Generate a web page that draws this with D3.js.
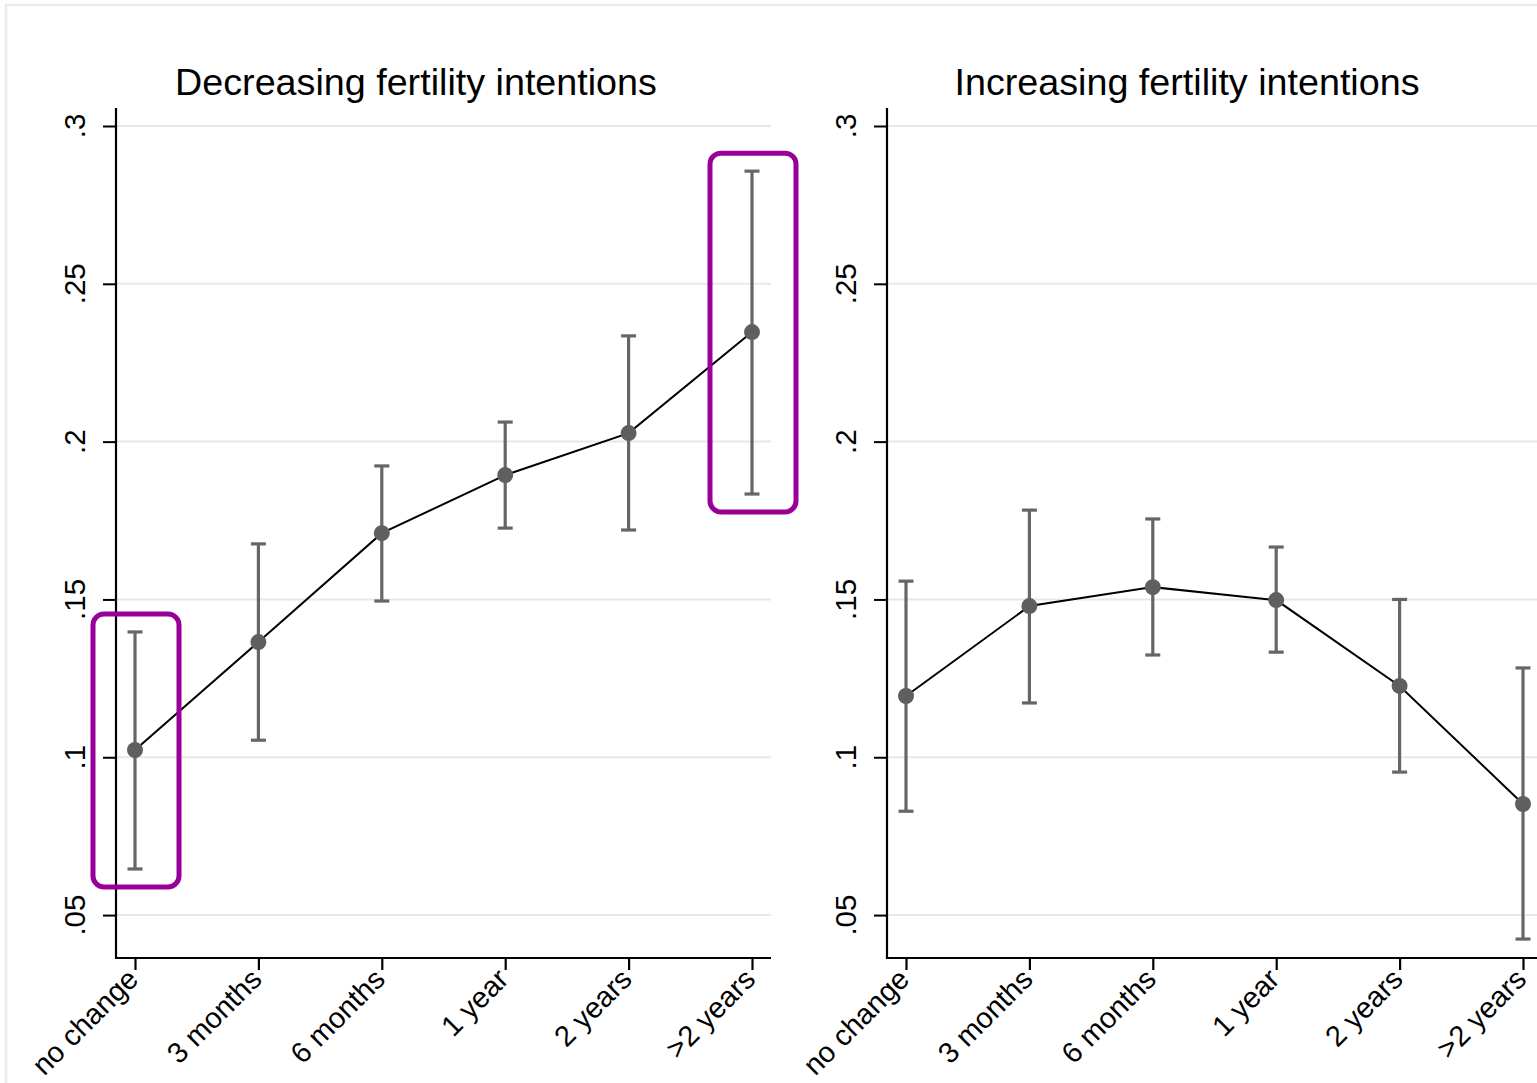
<!DOCTYPE html>
<html>
<head>
<meta charset="utf-8">
<script src="https://cdn.jsdelivr.net/npm/d3@7"></script>
<style>
  html, body { margin: 0; padding: 0; background: #fff; }
  svg { display: block; }
  text { font-family: "Liberation Sans", Arial, Helvetica, sans-serif; fill: #000; }
</style>
</head>
<body>
<svg id="chart" width="1537" height="1083"></svg>
<script>
// ---- data ----
const categories = ["no change", "3 months", "6 months", "1 year", "2 years", ">2 years"];
const yTicks = [0.05, 0.1, 0.15, 0.2, 0.25, 0.3];
const yTickLabels = [".05", ".1", ".15", ".2", ".25", ".3"];
const panelTitles = ["Decreasing fertility intentions", "Increasing fertility intentions"];

const decEstimate = [0.1023, 0.1365, 0.1710, 0.1894, 0.2027, 0.2347];
const decLower    = [0.0646, 0.1054, 0.1495, 0.1726, 0.1720, 0.1834];
const decUpper    = [0.1397, 0.1676, 0.1923, 0.2062, 0.2335, 0.2857];

const incEstimate = [0.1194, 0.1479, 0.1539, 0.1498, 0.1226, 0.0852];
const incLower    = [0.0829, 0.1172, 0.1324, 0.1333, 0.0953, 0.0424];
const incUpper    = [0.1558, 0.1783, 0.1755, 0.1666, 0.1500, 0.1283];

// highlighted categories (annotation boxes) per panel
const decHighlights = ["no change", ">2 years"];
const incHighlights = [];

// ---- layout ----
const svg = d3.select("#chart");

// outer graph frame
svg.append("rect")
  .attr("x", 6).attr("y", 5).attr("width", 1600).attr("height", 1200)
  .attr("fill", "none").attr("stroke", "#ebebeb").attr("stroke-width", 2.5);

const yDomain = [0.0364, 0.3057];
const plotTop = 108, plotBottom = 958;

const panels = [
  { left: 116, right: 771, title: panelTitles[0], est: decEstimate, lo: decLower, hi: decUpper, hl: decHighlights },
  { left: 887, right: 1542, title: panelTitles[1], est: incEstimate, lo: incLower, hi: incUpper, hl: incHighlights }
];

panels.forEach(p => {
  const g = svg.append("g");
  const x = d3.scalePoint().domain(categories).range([p.left + 19, p.right - 19]);
  const y = d3.scaleLinear().domain(yDomain).range([plotBottom, plotTop]);

  // gridlines
  g.append("g").selectAll("line").data(yTicks).join("line")
    .attr("x1", p.left).attr("x2", p.right)
    .attr("y1", d => y(d)).attr("y2", d => y(d))
    .attr("stroke", "#e8e8e8").attr("stroke-width", 2);

  // y axis
  const yAxis = g.append("g").attr("transform", `translate(${p.left},0)`)
    .call(d3.axisLeft(y).tickValues(yTicks).tickSize(13)
      .tickFormat((d, i) => yTickLabels[i]));
  yAxis.select(".domain").remove();
  yAxis.selectAll(".tick line").attr("stroke", "#000").attr("stroke-width", 2);
  yAxis.selectAll(".tick text").remove();
  g.append("line").attr("x1", p.left).attr("x2", p.left)
    .attr("y1", plotTop).attr("y2", plotBottom + 1)
    .attr("stroke", "#000").attr("stroke-width", 2.2);
  g.append("g").selectAll("text").data(yTicks).join("text")
    .attr("transform", d => `translate(${p.left - 31},${y(d)}) rotate(-90)`)
    .attr("text-anchor", "middle")
    .attr("font-size", 29.5)
    .text((d, i) => yTickLabels[i]);

  // x axis
  const xAxis = g.append("g").attr("transform", `translate(0,${plotBottom})`)
    .call(d3.axisBottom(x).tickSize(12).tickFormat(""));
  xAxis.select(".domain").remove();
  xAxis.selectAll(".tick line").attr("stroke", "#000").attr("stroke-width", 2.2);
  g.append("line").attr("x1", p.left - 1).attr("x2", p.right)
    .attr("y1", plotBottom).attr("y2", plotBottom)
    .attr("stroke", "#000").attr("stroke-width", 2.2);
  g.append("g").selectAll("text").data(categories).join("text")
    .attr("transform", d => `translate(${x(d) + 5},${plotBottom + 23}) rotate(-45)`)
    .attr("text-anchor", "end")
    .attr("font-size", 29)
    .text(d => d);

  // title
  g.append("text")
    .attr("x", p.left + 300).attr("y", 95)
    .attr("text-anchor", "middle")
    .attr("font-size", 37.7)
    .text(p.title);

  const idx = d3.range(categories.length);

  // CI spikes
  g.append("g").selectAll("line").data(idx).join("line")
    .attr("x1", i => x(categories[i])).attr("x2", i => x(categories[i]))
    .attr("y1", i => y(p.lo[i])).attr("y2", i => y(p.hi[i]))
    .attr("stroke", "#666666").attr("stroke-width", 3.2);
  ["lo", "hi"].forEach(k => {
    g.append("g").selectAll("line").data(idx).join("line")
      .attr("x1", i => x(categories[i]) - 7.5).attr("x2", i => x(categories[i]) + 7.5)
      .attr("y1", i => y(p[k][i])).attr("y2", i => y(p[k][i]))
      .attr("stroke", "#666666").attr("stroke-width", 3.2);
  });

  // connecting line
  g.append("path")
    .datum(idx)
    .attr("d", d3.line().x(i => x(categories[i])).y(i => y(p.est[i])))
    .attr("fill", "none").attr("stroke", "#000").attr("stroke-width", 2);

  // markers
  g.append("g").selectAll("circle").data(idx).join("circle")
    .attr("cx", i => x(categories[i])).attr("cy", i => y(p.est[i]))
    .attr("r", 8).attr("fill", "#5f5f5f");

  // highlight boxes
  g.append("g").selectAll("rect").data(p.hl).join("rect")
    .attr("x", c => x(c) - 42).attr("width", 86)
    .attr("y", c => y(p.hi[categories.indexOf(c)]) - 18)
    .attr("height", c => y(p.lo[categories.indexOf(c)]) - y(p.hi[categories.indexOf(c)]) + 36)
    .attr("rx", 11).attr("ry", 11)
    .attr("fill", "none").attr("stroke", "#990099").attr("stroke-width", 5);
});
</script>
</body>
</html>
